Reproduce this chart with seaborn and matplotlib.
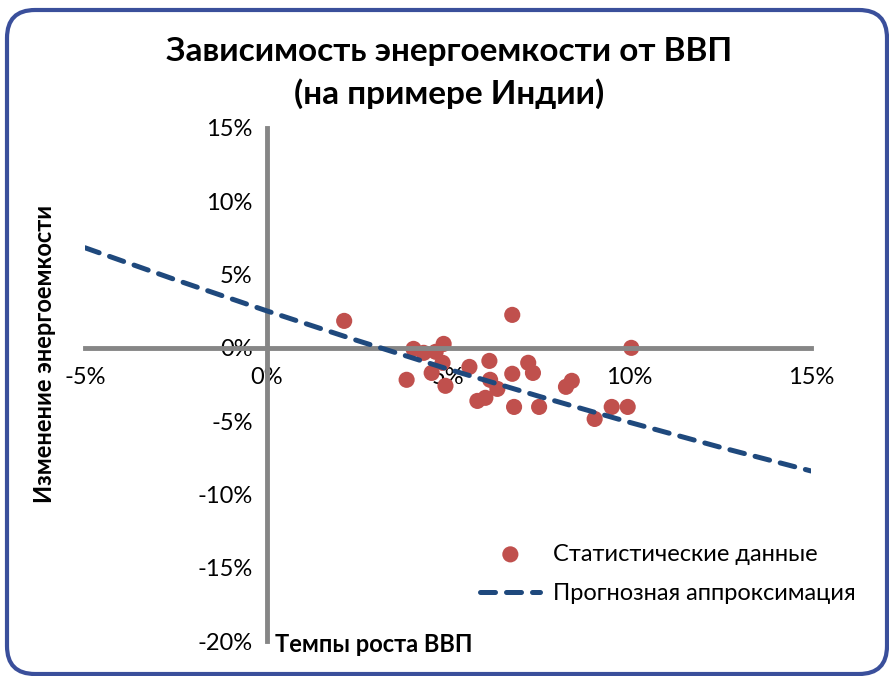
import seaborn as sns
import matplotlib.pyplot as plt
import pandas as pd
import numpy as np
from matplotlib.patches import FancyBboxPatch
from matplotlib.ticker import FuncFormatter

# темпы роста ВВП, % / изменение энергоемкости, %
gdp_growth = [2.14, 3.86, 4.05, 4.33, 4.66, 4.88, 4.85, 4.55, 4.93, 5.59,
              6.14, 6.16, 6.36, 5.81, 6.03, 6.77, 6.82, 6.77, 7.21, 7.34,
              7.51, 8.25, 8.41, 9.04, 9.51, 9.95, 10.05]
energy_change = [1.84, -2.18, -0.07, -0.34, -0.27, 0.27, -1.02, -1.71, -2.59, -1.30,
                 -0.89, -2.18, -2.80, -3.62, -3.41, -1.77, -4.03, 2.25, -1.02, -1.71,
                 -4.03, -2.66, -2.25, -4.85, -4.03, -4.03, 0.0]

# прогнозная аппроксимация
trend_x = [-5, -2.5, 0, 2.5, 5, 7.5, 10, 12.5, 15]
trend_y = [6.83, 4.64, 2.53, 0.50, -1.45, -3.30, -5.08, -6.78, -8.40]

title = "Зависимость энергоемкости от ВВП\n(на примере Индии)"
xlabel = "Темпы роста ВВП"
ylabel = "Изменение энергоемкости"
labels = ["Статистические данные", "Прогнозная аппроксимация"]

sns.set_style("white")
plt.rcParams['font.family'] = ['Lato', 'DejaVu Sans']
plt.rcParams['text.color'] = 'black'

df = pd.DataFrame({"x": gdp_growth, "y": energy_change})
tr = pd.DataFrame({"x": trend_x, "y": trend_y})

fig = plt.figure(figsize=(8.89, 6.76), dpi=100)
ax = fig.add_axes([85 / 889, 1 - 641 / 676, 726 / 889, 513 / 676])

sns.lineplot(data=tr, x="x", y="y", ax=ax, color="#1F497D", linewidth=3.6,
             label=labels[1], zorder=3)
line = ax.lines[-1]
line.set_dashes((3.0, 2.2))
line.set_dash_capstyle("round")
sns.scatterplot(data=df, x="x", y="y", ax=ax, color="#C0504D", s=135,
                edgecolor="none", label=labels[0], zorder=2)

ax.set_xlim(-5, 15)
ax.set_ylim(-20, 15)
ax.set_xticks([-5, 0, 5, 10, 15])
ax.set_yticks([-20, -15, -10, -5, 0, 5, 10, 15])
ax.xaxis.set_major_formatter(FuncFormatter(lambda v, p: f"{v:.0f}%"))
ax.yaxis.set_major_formatter(FuncFormatter(lambda v, p: f"{v:.0f}%"))
ax.set_xlabel("")
ax.set_ylabel("")

for s in ["top", "right"]:
    ax.spines[s].set_visible(False)
ax.spines["left"].set_position(("data", 0))
ax.spines["bottom"].set_position(("data", 0))
for s in ["left", "bottom"]:
    ax.spines[s].set_color("#868686")
    ax.spines[s].set_linewidth(3.5)
ax.tick_params(axis="both", which="major", direction="out", length=5, width=3.5,
               color="#868686", labelsize=17, labelcolor="black")
ax.tick_params(axis="y", pad=5)
ax.tick_params(axis="x", pad=9)
ax.patch.set_alpha(0)

handles, _ = ax.get_legend_handles_labels()
hmap = dict(zip(_, handles))
leg = ax.legend([hmap[labels[0]], hmap[labels[1]]], labels, frameon=False,
                loc="center left", bbox_to_anchor=(459 / 889, 1 - 574 / 676),
                bbox_transform=fig.transFigure, fontsize=17, handlelength=2.55,
                handletextpad=0.55, labelspacing=0.8, markerscale=1.0)

fig.text(0.505, 0.892, title, ha="center", va="center", fontsize=24,
         fontweight="bold", linespacing=1.5, color="black")
fig.text(45 / 889, 1 - 354 / 676, ylabel, rotation=90, ha="center", va="center",
         fontsize=17, fontweight="bold", color="black")
fig.text(275 / 889, 1 - 645 / 676, xlabel, ha="left", va="center",
         fontsize=17, fontweight="bold", color="black")

border = FancyBboxPatch((7, 2), 880, 664, boxstyle="round,pad=0,rounding_size=28",
                        transform=None, facecolor="none", edgecolor="#3A4F9B",
                        linewidth=3)
fig.patches.append(border)

plt.savefig("out.png", dpi=100)
plt.close()
